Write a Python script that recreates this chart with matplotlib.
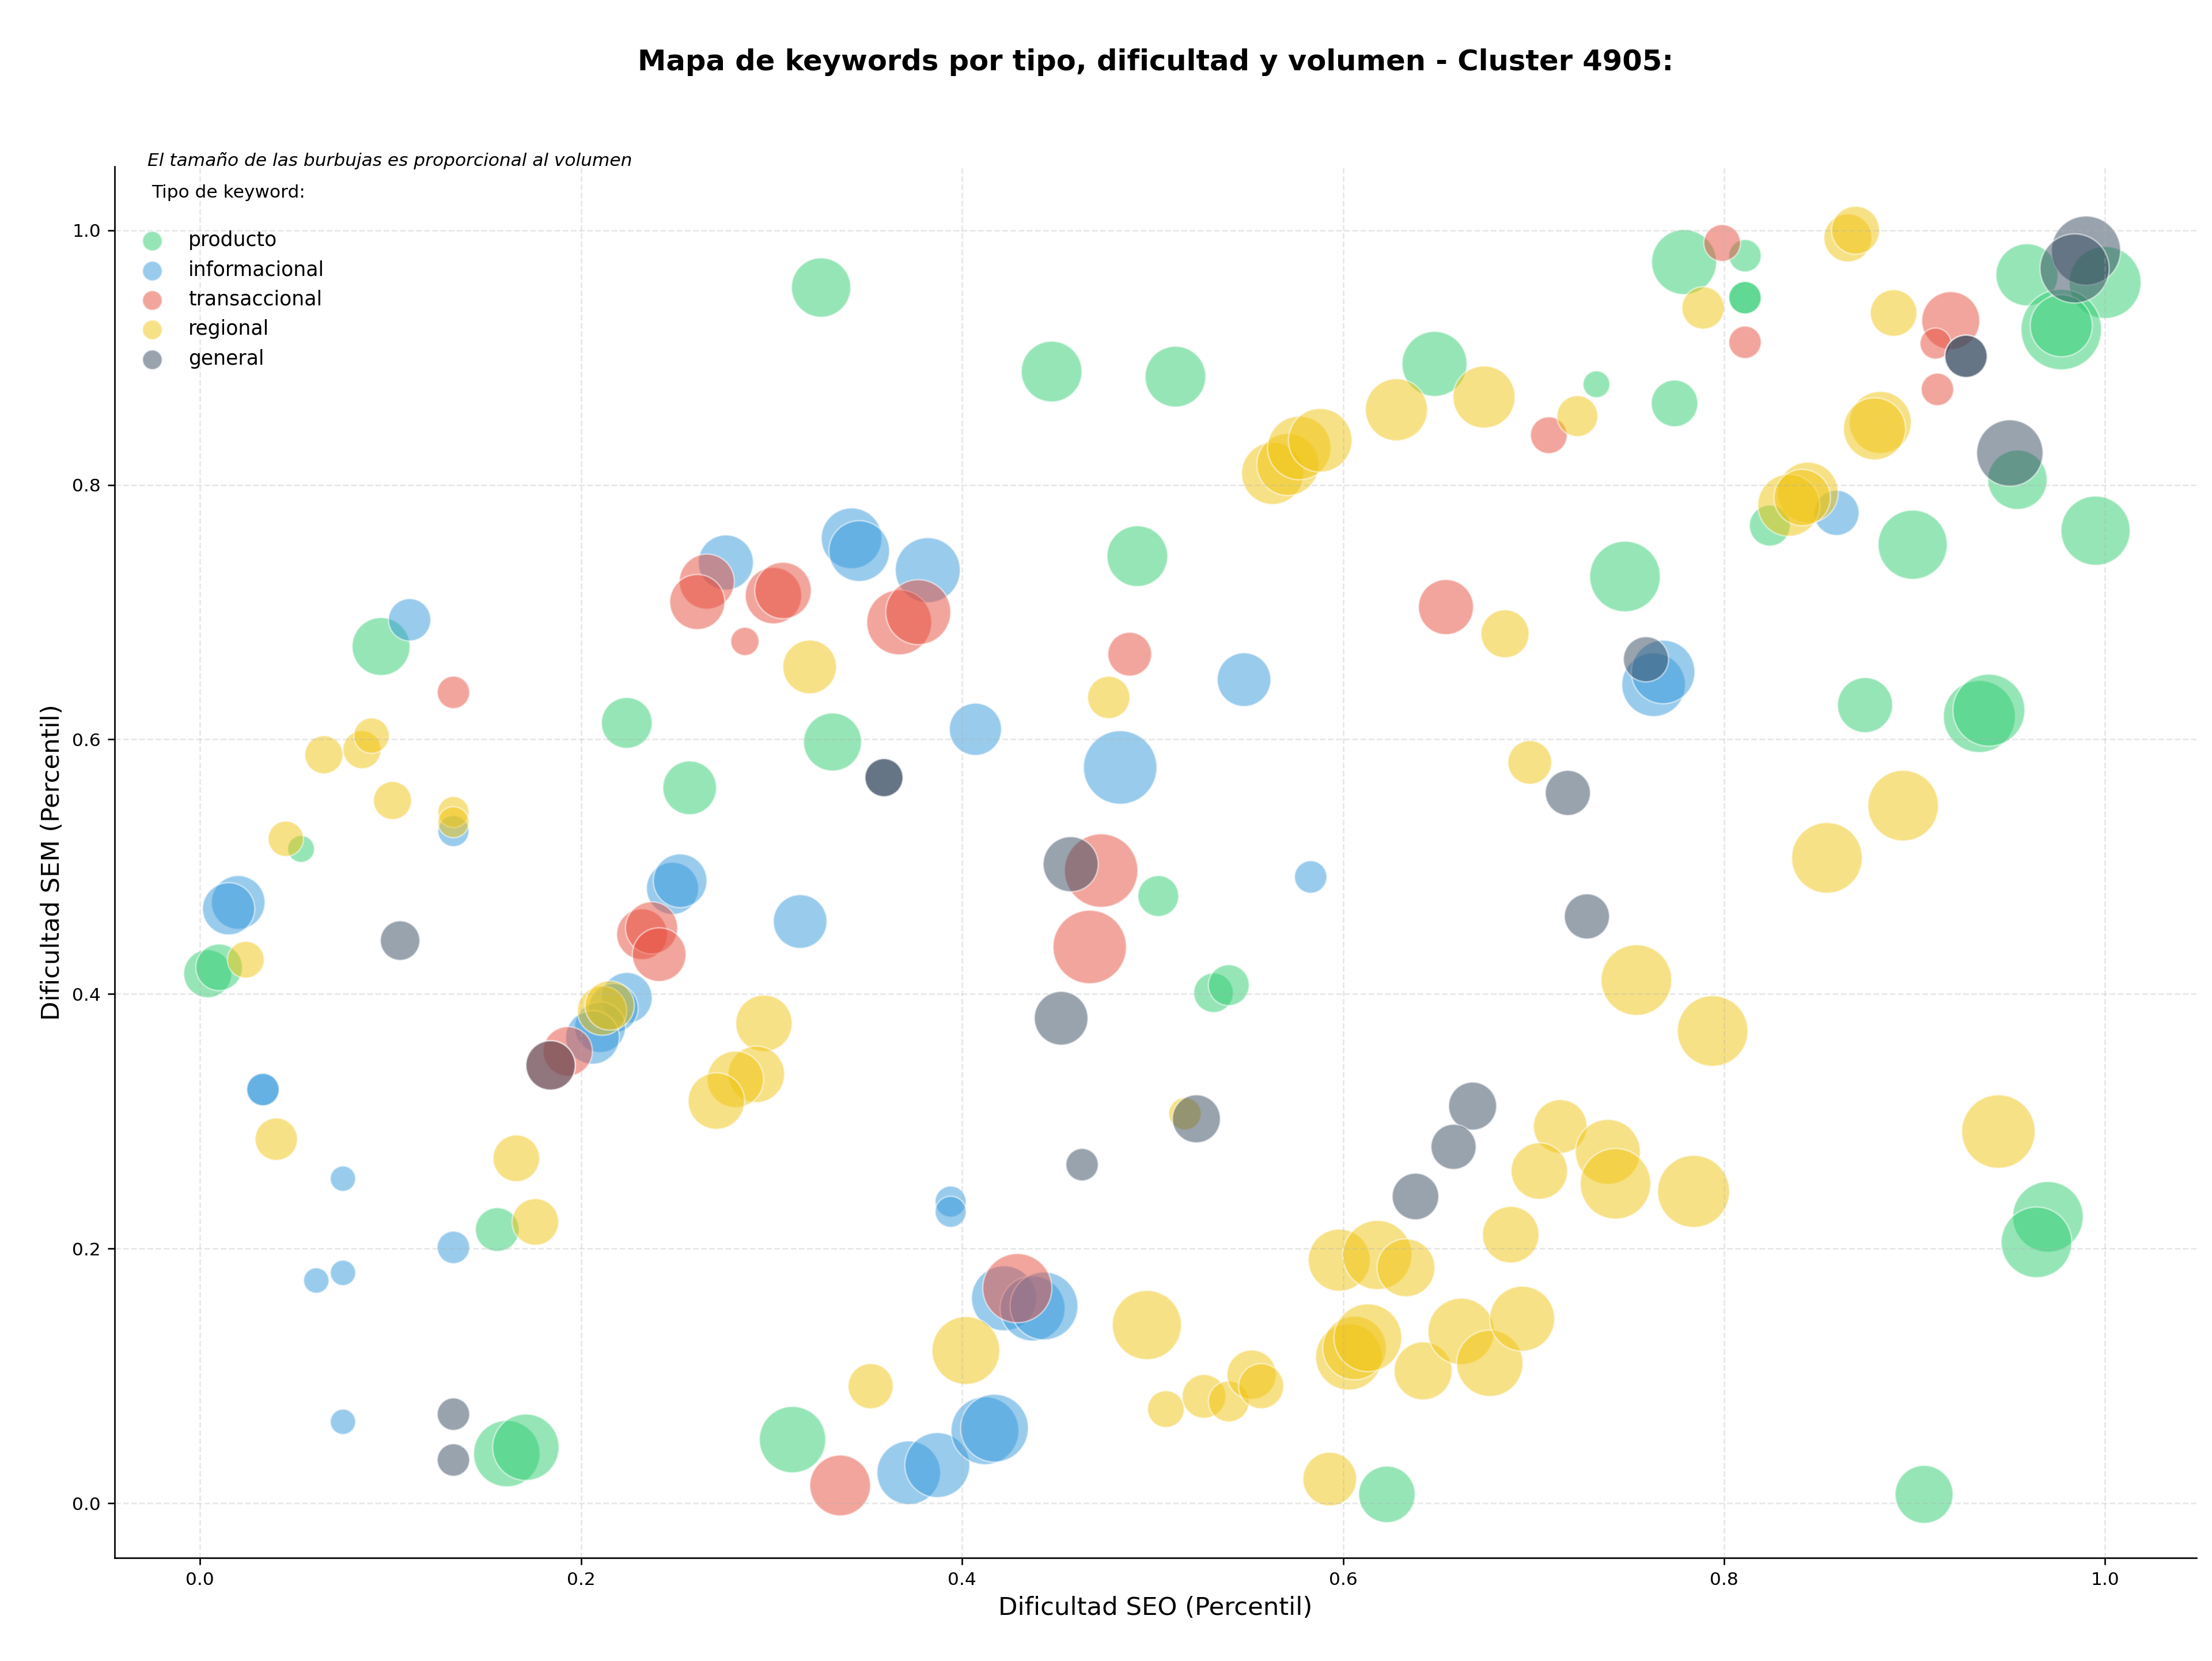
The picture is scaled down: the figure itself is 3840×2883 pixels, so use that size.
import numpy as np
import matplotlib
matplotlib.use("Agg")
import matplotlib.pyplot as plt

# Dificultad SEO (x), dificultad SEM (y) y volumen por tipo de keyword
producto_x = [0.326, 0.447, 0.512, 0.648, 0.779, 0.811, 0.811, 0.811, 0.733, 0.774, 0.959, 1.000,
              0.977, 0.977, 0.954, 0.995, 0.824, 0.899, 0.748, 0.492, 0.095, 0.224, 0.332, 0.257,
              0.874, 0.934, 0.939, 0.053, 0.004, 0.010, 0.503, 0.532, 0.540, 0.156, 0.161, 0.171,
              0.311, 0.623, 0.905, 0.970, 0.964]
producto_y = [0.955, 0.889, 0.885, 0.895, 0.975, 0.980, 0.947, 0.947, 0.879, 0.864, 0.965, 0.959,
              0.922, 0.925, 0.804, 0.764, 0.768, 0.753, 0.728, 0.744, 0.673, 0.613, 0.598, 0.562,
              0.627, 0.618, 0.623, 0.514, 0.416, 0.421, 0.477, 0.401, 0.407, 0.215, 0.039, 0.044,
              0.050, 0.007, 0.007, 0.225, 0.205]
producto_vol = [318, 333, 333, 381, 381, 95, 95, 95, 65, 196, 348, 468,
                585, 348, 318, 432, 151, 432, 450, 333, 303, 233, 303, 260,
                274, 468, 468, 65, 208, 196, 151, 141, 151, 173, 398, 398,
                398, 288, 303, 450, 450]

info_x = [0.110, 0.276, 0.342, 0.346, 0.382, 0.407, 0.548, 0.483, 0.763, 0.768, 0.859, 0.020,
          0.015, 0.248, 0.252, 0.315, 0.133, 0.583, 0.033, 0.033, 0.075, 0.133, 0.075, 0.061,
          0.075, 0.394, 0.394, 0.224, 0.217, 0.210, 0.206, 0.372, 0.387, 0.412, 0.417, 0.422,
          0.437, 0.443]
info_y = [0.694, 0.739, 0.758, 0.748, 0.733, 0.608, 0.647, 0.578, 0.643, 0.653, 0.778, 0.472,
          0.467, 0.483, 0.489, 0.457, 0.528, 0.492, 0.325, 0.325, 0.255, 0.201, 0.181, 0.175,
          0.064, 0.237, 0.229, 0.397, 0.389, 0.374, 0.366, 0.024, 0.030, 0.057, 0.059, 0.161,
          0.153, 0.155]
info_vol = [162, 274, 333, 333, 381, 246, 260, 487, 365, 365, 184, 260,
            246, 246, 260, 260, 87, 95, 95, 95, 58, 95, 58, 58,
            58, 87, 87, 233, 220, 233, 260, 365, 381, 415, 415, 381,
            381, 415]

trans_x = [0.799, 0.811, 0.919, 0.911, 0.912, 0.708, 0.654, 0.488, 0.286, 0.133, 0.266, 0.261,
           0.301, 0.306, 0.367, 0.377, 0.473, 0.467, 0.232, 0.237, 0.241, 0.193, 0.184, 0.336,
           0.429]
trans_y = [0.990, 0.912, 0.929, 0.911, 0.875, 0.839, 0.704, 0.667, 0.677, 0.637, 0.724, 0.708,
           0.713, 0.717, 0.692, 0.700, 0.497, 0.437, 0.447, 0.452, 0.431, 0.355, 0.344, 0.014,
           0.169]
trans_vol = [122, 95, 303, 87, 95, 122, 274, 173, 72, 95, 274, 274,
             288, 288, 381, 381, 487, 487, 233, 246, 260, 220, 220, 333,
             432]

reg_x = [0.865, 0.869, 0.789, 0.889, 0.723, 0.882, 0.879, 0.844, 0.834, 0.841, 0.563, 0.571,
         0.577, 0.588, 0.628, 0.674, 0.320, 0.477, 0.685, 0.698, 0.894, 0.854, 0.754, 0.794,
         0.065, 0.085, 0.090, 0.101, 0.133, 0.133, 0.045, 0.024, 0.211, 0.215, 0.296, 0.292,
         0.281, 0.271, 0.040, 0.166, 0.176, 0.517, 0.944, 0.714, 0.739, 0.703, 0.743, 0.784,
         0.688, 0.598, 0.618, 0.633, 0.497, 0.402, 0.352, 0.507, 0.527, 0.540, 0.552, 0.557,
         0.603, 0.606, 0.613, 0.642, 0.662, 0.677, 0.694, 0.593]
reg_y = [0.994, 1.000, 0.939, 0.935, 0.854, 0.849, 0.844, 0.794, 0.784, 0.790, 0.809, 0.816,
         0.829, 0.835, 0.859, 0.869, 0.657, 0.633, 0.683, 0.582, 0.548, 0.507, 0.411, 0.371,
         0.588, 0.592, 0.603, 0.552, 0.543, 0.535, 0.522, 0.427, 0.387, 0.391, 0.377, 0.337,
         0.333, 0.316, 0.286, 0.271, 0.221, 0.306, 0.292, 0.296, 0.276, 0.261, 0.251, 0.245,
         0.211, 0.191, 0.195, 0.185, 0.140, 0.120, 0.092, 0.074, 0.084, 0.080, 0.101, 0.092,
         0.115, 0.122, 0.130, 0.104, 0.135, 0.110, 0.145, 0.019]
reg_vol = [208, 208, 162, 196, 151, 348, 348, 333, 348, 288, 348, 348,
           365, 365, 348, 348, 260, 162, 208, 173, 450, 450, 450, 450,
           131, 131, 113, 131, 87, 87, 113, 122, 220, 220, 288, 288,
           288, 288, 162, 196, 196, 95, 487, 260, 381, 288, 450, 468,
           288, 348, 432, 303, 432, 415, 184, 122, 173, 151, 220, 184,
           398, 365, 415, 303, 398, 398, 381, 260]

gen_x = [0.990, 0.984, 0.927, 0.927, 0.950, 0.759, 0.718, 0.728, 0.457, 0.452, 0.359, 0.359,
         0.105, 0.184, 0.133, 0.133, 0.463, 0.523, 0.668, 0.658, 0.638]
gen_y = [0.984, 0.970, 0.901, 0.901, 0.825, 0.663, 0.558, 0.461, 0.502, 0.381, 0.570, 0.570,
         0.442, 0.344, 0.070, 0.034, 0.266, 0.302, 0.312, 0.280, 0.241]
gen_vol = [432, 432, 162, 162, 398, 184, 184, 184, 274, 260, 131, 131,
           141, 220, 95, 95, 95, 208, 208, 184, 196]

tipos = ["producto", "informacional", "transaccional", "regional", "general"]
colores = ["#2ecc71", "#3498db", "#e74c3c", "#f1c40f", "#34495e"]
datos = [
    (producto_x, producto_y, producto_vol),
    (info_x, info_y, info_vol),
    (trans_x, trans_y, trans_vol),
    (reg_x, reg_y, reg_vol),
    (gen_x, gen_y, gen_vol),
]

fig, ax = plt.subplots(figsize=(16, 12.0125), dpi=240)
fig.subplots_adjust(left=0.0517, right=0.993, top=0.8997, bottom=0.062)

for tipo, color, (x, y, vol) in zip(tipos, colores, datos):
    ax.scatter(x, y, s=np.array(vol) * 3, c=color, alpha=0.5,
               edgecolors="white", linewidths=0.8, label=tipo)

ax.set_xlim(-0.045, 1.048)
ax.set_ylim(-0.043, 1.05)

ax.set_xlabel("Dificultad SEO (Percentil)", fontsize=13)
ax.set_ylabel("Dificultad SEM (Percentil)", fontsize=13)
ax.set_title("Mapa de keywords por tipo, dificultad y volumen - Cluster 4905:",
             fontsize=14.9, fontweight="bold", pad=50)

ax.grid(True, linestyle="--", alpha=0.3)
ax.spines["top"].set_visible(False)
ax.spines["right"].set_visible(False)
ax.tick_params(labelsize=9.4)

leg = ax.legend(title="Tipo de keyword:\n", loc="upper left", frameon=False,
                fontsize=10.4, title_fontsize=9.4)
for h in leg.legend_handles:
    h.set_sizes([105])

ax.text(0.016, 0.998, "El tamaño de las burbujas es proporcional al volumen",
        transform=ax.transAxes, fontsize=9.4, style="italic", va="bottom")

fig.savefig("out.png", dpi=240)
